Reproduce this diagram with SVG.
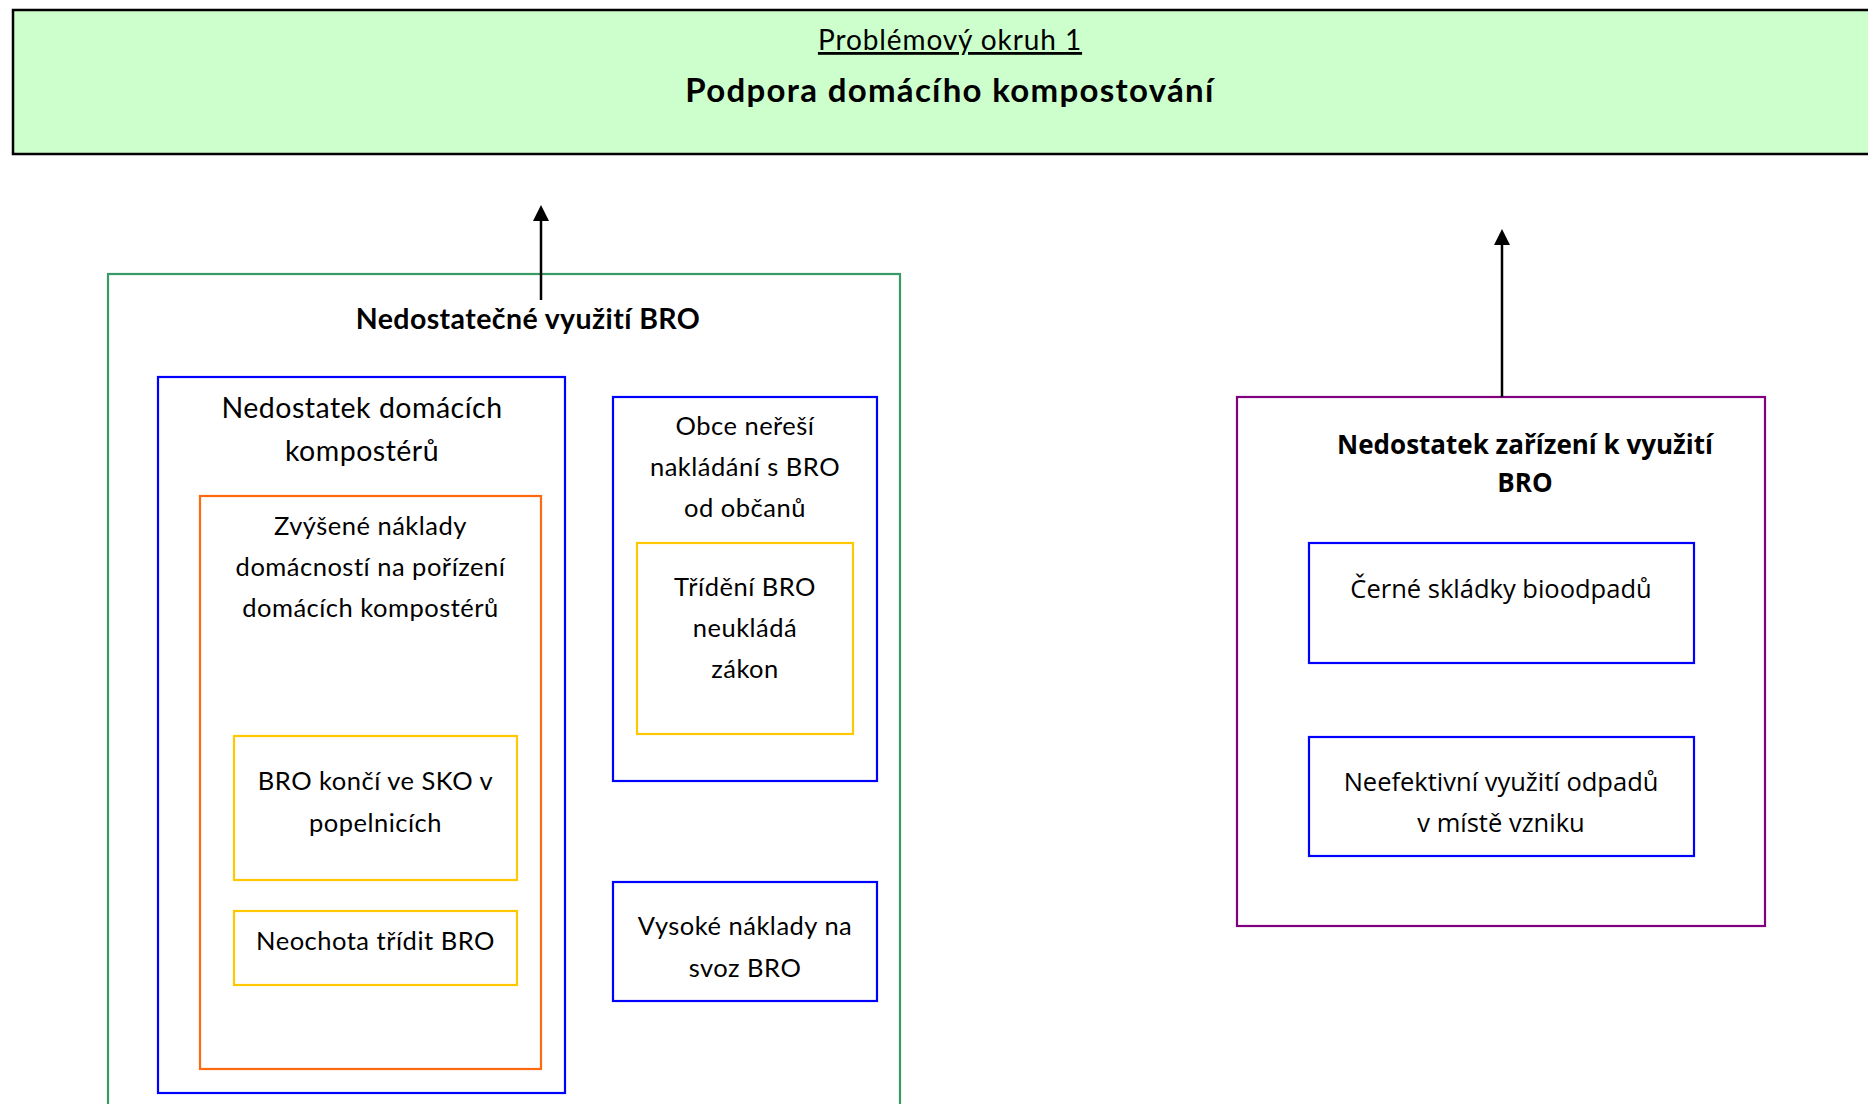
<svg xmlns="http://www.w3.org/2000/svg" width="1868" height="1104" viewBox="0 0 1868 1104">
<style>
.box{fill:none;stroke-width:2.2}
.g{stroke:#3A9A64}
.b{stroke:#0000FF}
.o{stroke:#FF6A10}
.y{stroke:#FFC800}
.p{stroke:#800080}
.t{font-family:Lato,"Liberation Sans",sans-serif;font-size:25.5px;letter-spacing:0.5px;fill:#000;text-anchor:middle}
.tl{font-family:Lato,"Liberation Sans",sans-serif;font-size:28.5px;letter-spacing:0.5px;fill:#000;text-anchor:middle}
.tb{font-family:Lato,"Liberation Sans",sans-serif;font-size:28.5px;letter-spacing:0.4px;font-weight:bold;fill:#000;text-anchor:middle}
.s{font-family:"Open Sans","Noto Sans",sans-serif;font-size:25.5px;fill:#000;text-anchor:middle}
.sb{font-family:"Open Sans","Noto Sans",sans-serif;font-size:26px;font-weight:bold;fill:#000;text-anchor:middle}
.conn{stroke:#000;stroke-width:2.5;fill:none}
</style>
<defs>
<marker id="ah" markerUnits="userSpaceOnUse" markerWidth="17" markerHeight="17" refX="1" refY="8" orient="auto">
<path d="M0,0 L16,8 L0,16 z" fill="#000"/>
</marker>
</defs>
<rect width="1868" height="1104" fill="#fff"/>
<g id="header">
<rect x="13" y="10" width="1900" height="144" fill="#CCFFCC" stroke="#000" stroke-width="2.5"/>
<text x="950" y="50" class="t" style="font-size:28px;letter-spacing:0.9px;text-decoration:underline">Problémový okruh 1</text>
<text x="950" y="102" class="tb" style="font-size:33px;letter-spacing:1.3px">Podpora domácího kompostování</text>
</g>
<g id="node-nedostatecne">
<rect x="108" y="274" width="792" height="900" class="box g"/>
<text x="528" y="329" class="tb">Nedostatečné využití BRO</text>
</g>
<g id="node-kompostery">
<rect x="158" y="377" width="407" height="716" class="box b"/>
<text x="362" y="418" class="tl">Nedostatek domácích</text>
<text x="362" y="461" class="tl">kompostérů</text>
</g>
<g id="node-naklady">
<rect x="200" y="496" width="341" height="573" class="box o"/>
<text x="370.5" y="535" class="t">Zvýšené náklady</text>
<text x="370.5" y="576" class="t">domácností na pořízení</text>
<text x="370.5" y="617" class="t">domácích kompostérů</text>
</g>
<g id="node-sko">
<rect x="234" y="736" width="283" height="144" class="box y"/>
<text x="375.5" y="790" class="t">BRO končí ve SKO v</text>
<text x="375.5" y="832" class="t">popelnicích</text>
</g>
<g id="node-neochota">
<rect x="234" y="911" width="283" height="74" class="box y"/>
<text x="375.5" y="950" class="t">Neochota třídit BRO</text>
</g>
<g id="node-obce">
<rect x="613" y="397" width="264" height="384" class="box b"/>
<text x="745" y="435" class="t">Obce neřeší</text>
<text x="745" y="476" class="t">nakládání s BRO</text>
<text x="745" y="517" class="t">od občanů</text>
</g>
<g id="node-trideni">
<rect x="637" y="543" width="216" height="191" class="box y"/>
<text x="745" y="596" class="t">Třídění BRO</text>
<text x="745" y="637" class="t">neukládá</text>
<text x="745" y="678" class="t">zákon</text>
</g>
<g id="node-svoz">
<rect x="613" y="882" width="264" height="119" class="box b"/>
<text x="745" y="935" class="t">Vysoké náklady na</text>
<text x="745" y="977" class="t">svoz BRO</text>
</g>
<g id="node-zarizeni">
<rect x="1237" y="397" width="528" height="529" class="box p"/>
<text x="1525" y="454" class="sb">Nedostatek zařízení k využití</text>
<text x="1525" y="492" class="sb">BRO</text>
</g>
<g id="node-cerne">
<rect x="1309" y="543" width="385" height="120" class="box b"/>
<text x="1501" y="598" class="s">Černé skládky bioodpadů</text>
</g>
<g id="node-neefektivni">
<rect x="1309" y="737" width="385" height="119" class="box b"/>
<text x="1501" y="791" class="s">Neefektivní využití odpadů</text>
<text x="1501" y="832" class="s">v místě vzniku</text>
</g>
<g id="connectors">
<line x1="541" y1="300" x2="541" y2="220" class="conn" marker-end="url(#ah)"/>
<line x1="1502" y1="397" x2="1502" y2="244" class="conn" marker-end="url(#ah)"/>
</g>
</svg>
